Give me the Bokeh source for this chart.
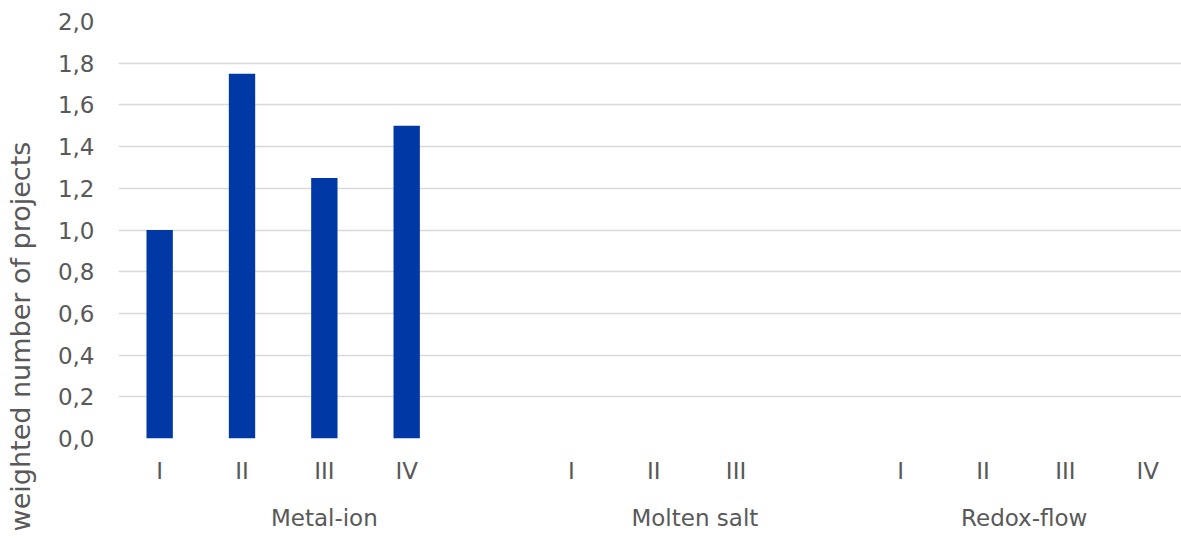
import math
from bokeh.plotting import figure
from bokeh.models import (ColumnDataSource, FixedTicker, LinearAxis, Range1d,
                          CustomJSTickFormatter)
from bokeh.embed import file_html
from bokeh.resources import INLINE

groups = ["Metal-ion", "Molten salt", "Redox-flow"]
subcategories = [["I", "II", "III", "IV"], ["I", "II", "III"], ["I", "II", "III", "IV"]]
values = [[1.0, 1.75, 1.25, 1.5], [0.0, 0.0, 0.0], [0.0, 0.0, 0.0, 0.0]]
y_ticks = [0, 0.2, 0.4, 0.6, 0.8, 1.0, 1.2, 1.4, 1.6, 1.8, 2.0]
y_title = "weighted number of projects"

# slot positions: one empty slot between groups
xs, tops, sub_labels = [], [], {}
group_centers = []
pos = 0
for gi, (g, subs, vals) in enumerate(zip(groups, subcategories, values)):
    start = pos
    for s, v in zip(subs, vals):
        xs.append(pos)
        tops.append(v)
        sub_labels[pos] = s
        pos += 1
    end = pos - 1
    if gi < len(groups) - 1:
        end = pos  # include gap slot
        pos += 1
    group_centers.append((start + end) / 2)

all_slots = list(range(pos))
src = ColumnDataSource(dict(x=xs, top=tops))

TEXT = "#595959"
FONT = "DejaVu Sans"

p = figure(width=1181, height=538, output_backend="svg", toolbar_location=None,
           x_range=Range1d(-0.5, 12.41), y_range=Range1d(0, 2.0),
           min_border_left=118, min_border_right=0, min_border_top=21,
           min_border_bottom=100, x_axis_location=None)
p.outline_line_color = None
p.background_fill_color = "white"
p.border_fill_color = "white"
p.xgrid.visible = False
p.ygrid.grid_line_color = "#d9d9d9"
p.ygrid.grid_line_width = 1.3
p.ygrid.ticker = FixedTicker(ticks=y_ticks)

p.vbar(x="x", top="top", width=0.32, source=src, color="#0039A6", line_color=None)

def style(ax, standoff, size="23px"):
    ax.axis_line_color = None
    ax.major_tick_line_color = None
    ax.minor_tick_line_color = None
    ax.major_tick_out = 0
    ax.major_tick_in = 0
    ax.major_label_standoff = standoff
    ax.major_label_text_font = FONT
    ax.major_label_text_font_size = size
    ax.major_label_text_color = TEXT

yax = p.yaxis[0]
yax.ticker = FixedTicker(ticks=y_ticks)
yax.formatter = CustomJSTickFormatter(code="return tick.toFixed(1).replace('.', ',');")
style(yax, 24)

# y-axis title drawn as a single-tick axis so it can sit off-centre like the original
title_axis = LinearAxis(ticker=FixedTicker(ticks=[0.489]),
                        formatter=CustomJSTickFormatter(code="return %r;" % y_title))
style(title_axis, 18, "27px")
title_axis.major_label_orientation = "vertical"
p.add_layout(title_axis, "left")

ax1 = LinearAxis(ticker=FixedTicker(ticks=all_slots),
                 major_label_overrides={k: sub_labels.get(k, "") for k in all_slots})
ax2 = LinearAxis(ticker=FixedTicker(ticks=group_centers),
                 major_label_overrides={c: g for c, g in zip(group_centers, groups)})
style(ax1, 19)
style(ax2, 18)
p.add_layout(ax1, "below")
p.add_layout(ax2, "below")

open("out.html", "w").write(file_html(p, INLINE))
